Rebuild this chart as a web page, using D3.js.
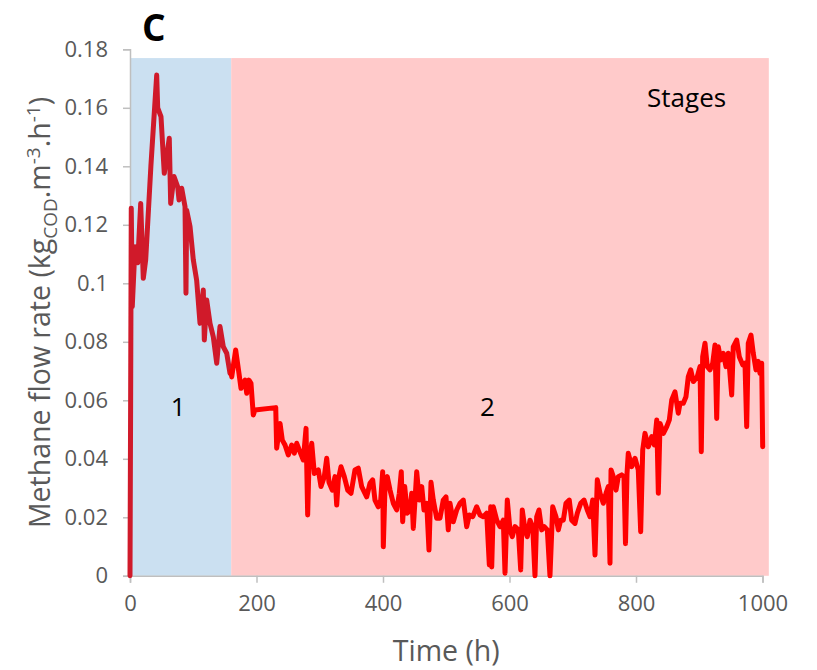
<!DOCTYPE html>
<html>
<head>
<meta charset="utf-8">
<script src="https://cdn.jsdelivr.net/npm/d3@7/dist/d3.min.js"></script>
<style>
  html, body { margin: 0; padding: 0; background: #ffffff; }
  svg { display: block; }
</style>
</head>
<body>
<svg id="chart" width="817" height="670"></svg>
<script>
// ---- data ----
const stageNames = ["1", "2"];
const stageStart = [0, 160];
const stageEnd = [160, 1010];
const stageTop = 0.177;

const xTicks = [0, 200, 400, 600, 800, 1000];
const yTicks = [0, 0.02, 0.04, 0.06, 0.08, 0.1, 0.12, 0.14, 0.16, 0.18];
const yTickLabels = ["0", "0.02", "0.04", "0.06", "0.08", "0.1", "0.12", "0.14", "0.16", "0.18"];

// Stage 1 methane flow rate (time h, kgCOD.m-3.h-1)
const time1 = [0, 1, 2, 3.6, 7.9, 12.2, 16.9, 21, 24.8, 33, 42.2, 43.8, 49, 54.2, 62.1, 64.3, 69.6, 75.4, 77.5, 81.7, 87, 88.5, 89.6, 94.9, 100.1, 105.4, 110.7, 115.9, 117.5, 121.3, 126.5, 131.7, 137.1, 142.3, 147.5, 152.9, 158.1, 160];
const flow1 = [0, 0.06, 0.1257, 0.092, 0.1125, 0.107, 0.1273, 0.1017, 0.108, 0.140, 0.1712, 0.160, 0.157, 0.1376, 0.1496, 0.1273, 0.1365, 0.133, 0.1285, 0.1325, 0.1262, 0.0966, 0.125, 0.1194, 0.108, 0.101, 0.0863, 0.0977, 0.0806, 0.0943, 0.0863, 0.0817, 0.0727, 0.0852, 0.0783, 0.0761, 0.0692, 0.070];

// Stage 2 methane flow rate
const time2 = [160, 160.8, 167.1, 172.3, 175.5, 181.8, 184.5, 188.1, 191.3, 194.9, 197.6, 230.4, 231.9, 237.2, 240.8, 245.1, 250.3, 255.6, 259.8, 263.6, 268.8, 274.0, 278.3, 280.9, 283.0, 287.3, 291.4, 297.7, 302.0, 307.2, 311.0, 314.6, 319.8, 324.1, 326.8, 329.3, 333.6, 338.8, 344.2, 349.4, 355.7, 360.9, 366.3, 371.5, 374.2, 379.4, 383.7, 387.3, 392.6, 396.4, 399.5, 400.5, 403.2, 406.8, 411.1, 416.3, 421.7, 425.8, 428.9, 431.1, 434.3, 438.4, 442.7, 445.4, 447.9, 450.6, 453.3, 457.4, 461.2, 464.8, 469.1, 472.7, 475.9, 479.5, 484.9, 490.1, 495.3, 499.6, 503.2, 505.9, 511.1, 516.5, 521.7, 527.0, 532.3, 536.4, 541.8, 548.1, 553.4, 558.6, 563.9, 568.1, 570.3, 571.9, 574.4, 579.8, 585.0, 590.2, 592.9, 596.5, 600.8, 604.4, 608.7, 613.9, 617.7, 620.2, 624.5, 628.1, 632.4, 636.7, 640.3, 643.0, 646.6, 650.9, 655.0, 659.8, 664.0, 668.3, 673.5, 677.2, 680.9, 685.1, 689.3, 694.5, 698.3, 703.5, 707.2, 712.6, 717.8, 723.0, 727.3, 731.5, 735.2, 738.8, 743.1, 748.3, 752.6, 756.2, 758.9, 760.5, 764.1, 768.4, 772.0, 777.4, 781.0, 783.4, 785.8, 787.8, 793.2, 798.4, 803.6, 807.4, 810.6, 814.2, 819.5, 824.9, 829.0, 832.8, 835.3, 838.0, 843.3, 848.6, 852.7, 856.5, 861.6, 866.9, 869.6, 874.8, 879.0, 882.7, 886.5, 890.6, 896.9, 901.2, 903.2, 905.4, 909.1, 912.7, 917.0, 921.3, 924.9, 927.6, 930.1, 933.9, 938.0, 942.3, 945.9, 951.3, 953.8, 959.2, 963.3, 968.7, 972.3, 975.0, 977.5, 981.8, 985.4, 989.7, 993.3, 996.0, 998.7, 1000.3];
const flow2 = [0.070, 0.068, 0.0772, 0.0692, 0.0641, 0.0669, 0.0624, 0.0669, 0.0658, 0.055, 0.0567, 0.0575, 0.0436, 0.0521, 0.0464, 0.0447, 0.0413, 0.0447, 0.0419, 0.0453, 0.0424, 0.0396, 0.0504, 0.0208, 0.0385, 0.0453, 0.035, 0.0362, 0.0305, 0.0339, 0.0402, 0.032, 0.0293, 0.0339, 0.0242, 0.0328, 0.0373, 0.0339, 0.0293, 0.0282, 0.0362, 0.0368, 0.0305, 0.0282, 0.027, 0.0316, 0.0328, 0.0259, 0.0236, 0.0259, 0.0356, 0.0099, 0.0305, 0.0339, 0.0293, 0.0248, 0.0225, 0.0282, 0.0356, 0.0185, 0.0305, 0.0214, 0.0225, 0.0282, 0.0162, 0.0259, 0.0356, 0.0259, 0.0305, 0.0225, 0.0248, 0.0088, 0.032, 0.0259, 0.0197, 0.0197, 0.0259, 0.027, 0.0157, 0.0248, 0.0185, 0.0225, 0.0248, 0.0259, 0.0168, 0.0208, 0.0202, 0.0236, 0.0208, 0.0202, 0.0214, 0.0037, 0.0236, 0.003, 0.0236, 0.019, 0.0168, 0.019, 0.0009, 0.0259, 0.0157, 0.0134, 0.0168, 0.0157, 0.002, 0.0225, 0.0157, 0.0134, 0.019, 0.0168, 0, 0.0202, 0.0225, 0.0157, 0.0168, 0.0157, 0, 0.0236, 0.0202, 0.0157, 0.019, 0.019, 0.0248, 0.0259, 0.019, 0.0179, 0.0214, 0.0248, 0.0259, 0.0225, 0.0202, 0.0259, 0.0071, 0.0328, 0.0282, 0.0248, 0.0282, 0.0305, 0.0043, 0.0362, 0.0339, 0.0293, 0.0339, 0.0345, 0.0339, 0.011, 0.035, 0.0419, 0.0373, 0.0402, 0.0362, 0.0151, 0.043, 0.0487, 0.0441, 0.0476, 0.0447, 0.0533, 0.0282, 0.0521, 0.0487, 0.051, 0.0533, 0.0601, 0.0629, 0.0556, 0.059, 0.059, 0.0612, 0.0681, 0.0704, 0.0664, 0.0681, 0.0715, 0.0424, 0.0749, 0.0795, 0.0715, 0.0704, 0.0727, 0.0789, 0.0538, 0.0783, 0.0738, 0.0761, 0.0715, 0.0761, 0.0618, 0.0783, 0.0806, 0.0749, 0.0721, 0.0727, 0.051, 0.0795, 0.0823, 0.0761, 0.0704, 0.0733, 0.0692, 0.0727, 0.0441];

// ---- drawing ----
const svg = d3.select("#chart");
const x = d3.scaleLinear().domain([0, 1000]).range([130, 762.5]);
const y = d3.scaleLinear().domain([0, 0.18]).range([575.8, 49.3]);

const stageFill = ["#cbe0f1", "#ffcaca"];
const lineColor = ["#d01a2a", "#ff0000"];

// stage backgrounds
svg.append("g").selectAll("rect").data(stageNames).join("rect")
  .attr("x", (d, i) => x(stageStart[i]))
  .attr("y", y(stageTop))
  .attr("width", (d, i) => x(stageEnd[i]) - x(stageStart[i]))
  .attr("height", y(0) - y(stageTop))
  .attr("fill", (d, i) => stageFill[i]);

// axes
const axisColor = "#bfbfbf";
const labelColor = "#595959";
const tickFont = "'Open Sans', sans-serif";

const yAxis = svg.append("g").attr("transform", `translate(${x(0)},0)`)
  .call(d3.axisLeft(y).tickValues(yTicks).tickSize(7).tickPadding(15)
    .tickFormat((d, i) => yTickLabels[i]));
yAxis.select(".domain").attr("stroke", axisColor).attr("stroke-width", 1.5);
yAxis.selectAll(".tick line").attr("stroke", axisColor).attr("stroke-width", 1.5);
yAxis.selectAll(".tick text").attr("fill", labelColor)
  .style("font-family", tickFont).style("font-size", "22px");

const xAxis = svg.append("g").attr("transform", `translate(0,${y(0)})`)
  .call(d3.axisBottom(x).tickValues(xTicks).tickSize(7).tickPadding(13)
    .tickFormat(d3.format("d")));
xAxis.select(".domain").attr("stroke", axisColor).attr("stroke-width", 1.5);
xAxis.selectAll(".tick line").attr("stroke", axisColor).attr("stroke-width", 1.5);
xAxis.selectAll(".tick text").attr("fill", labelColor)
  .style("font-family", tickFont).style("font-size", "22px");

// lines
const line = d3.line().x(d => x(d[0])).y(d => y(d[1]));
const series = [
  d3.zip(time1, flow1),
  d3.zip(time2, flow2)
];
svg.append("g").selectAll("path").data(series).join("path")
  .attr("d", line)
  .attr("fill", "none")
  .attr("stroke", (d, i) => lineColor[i])
  .attr("stroke-width", 5)
  .attr("stroke-linejoin", "round")
  .attr("stroke-linecap", "round");

// stage labels
const textFont = "'Open Sans', sans-serif";
svg.append("g").selectAll("text").data(stageNames).join("text")
  .attr("x", (d, i) => i === 0 ? x(76) : x(565))
  .attr("y", y(0.0545))
  .attr("text-anchor", "middle")
  .attr("font-family", textFont).attr("font-size", 26).attr("fill", "#000")
  .text(d => d);

svg.append("text").attr("x", x(880)).attr("y", 107)
  .attr("text-anchor", "middle")
  .attr("font-family", textFont).attr("font-size", 26).attr("fill", "#000")
  .text("Stages");

// panel letter
svg.append("text").attr("x", 142).attr("y", 41)
  .attr("font-family", textFont).attr("font-size", 37).attr("font-weight", "bold")
  .attr("fill", "#000").text("C");

// axis titles
svg.append("text").attr("x", x(500)).attr("y", 661)
  .attr("text-anchor", "middle")
  .attr("font-family", textFont).attr("font-size", 28.5).attr("fill", labelColor)
  .text("Time (h)");

const yt = svg.append("text")
  .attr("transform", `translate(50,${(49 + 576) / 2}) rotate(-90)`)
  .attr("text-anchor", "middle")
  .attr("font-family", textFont).attr("font-size", 28.5).attr("fill", labelColor);
yt.append("tspan").text("Methane flow rate (kg");
yt.append("tspan").attr("font-size", 19).attr("dy", 7).text("COD");
yt.append("tspan").attr("dy", -7).text(".m");
yt.append("tspan").attr("font-size", 19).attr("dy", -10).text("-3");
yt.append("tspan").attr("dy", 10).text(".h");
yt.append("tspan").attr("font-size", 19).attr("dy", -10).text("-1");
yt.append("tspan").attr("dy", 10).text(")");
</script>
</body>
</html>
